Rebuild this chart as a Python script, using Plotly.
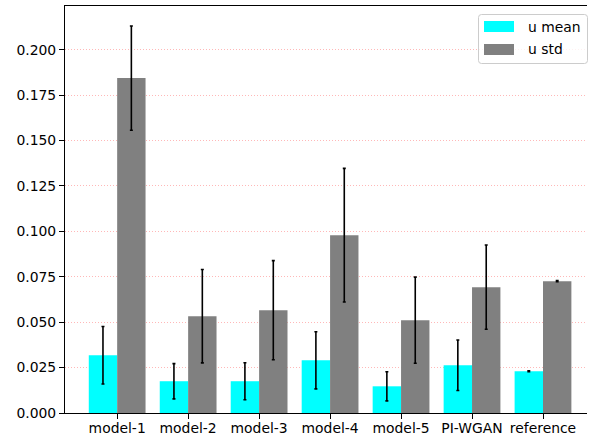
import plotly.graph_objects as go

# Per-model statistics of u: mean and std, each with its own spread
models = ["model-1", "model-2", "model-3", "model-4", "model-5", "PI-WGAN", "reference"]
u_mean = [0.0318, 0.0175, 0.0175, 0.0290, 0.0147, 0.0263, 0.0230]
u_mean_err = [0.0158, 0.0097, 0.0102, 0.0157, 0.0080, 0.0139, 0.0003]
u_std = [0.1844, 0.0533, 0.0566, 0.0979, 0.0511, 0.0693, 0.0726]
u_std_err = [0.0287, 0.0257, 0.0273, 0.0368, 0.0237, 0.0232, 0.0003]
y_ticks = [0.0, 0.025, 0.05, 0.075, 0.1, 0.125, 0.15, 0.175, 0.2]

FONT = "DejaVu Sans"
MEAN_COLOR = "#00ffff"
STD_COLOR = "#808080"

x_idx = list(range(len(models)))

fig = go.Figure()
fig.add_trace(go.Bar(
    x=x_idx, y=u_mean, name="u mean", marker=dict(color=MEAN_COLOR, line=dict(width=0)),
    error_y=dict(type="data", array=u_mean_err, color="black", thickness=1.6, width=1.5),
    showlegend=False,
))
fig.add_trace(go.Bar(
    x=x_idx, y=u_std, name="u std", marker=dict(color=STD_COLOR, line=dict(width=0)),
    error_y=dict(type="data", array=u_std_err, color="black", thickness=1.6, width=1.5),
    showlegend=False,
))

W, H = 589, 436
pl, pr, pt, pb = 65, 2, 6, 23

fig.update_layout(
    width=W, height=H,
    margin=dict(l=pl, r=pr, t=pt, b=pb),
    paper_bgcolor="white", plot_bgcolor="white",
    barmode="group", bargap=0.2, bargroupgap=0.0,
    font=dict(family=FONT, size=14, color="black"),
)
fig.update_xaxes(
    range=[-0.735, 6.62], tickmode="array", tickvals=x_idx, ticktext=models,
    showgrid=False, zeroline=False, automargin=False,
    showline=True, linecolor="black", linewidth=1.1, mirror=True,
    ticks="outside", ticklen=5, tickwidth=1.1, tickcolor="black",
    ticklabelstandoff=-3,
    tickfont=dict(family=FONT, size=13.9, color="black"),
)
fig.update_yaxes(
    range=[0, 0.2241], tickmode="array", tickvals=y_ticks,
    ticktext=[f"{v:.3f}" for v in y_ticks],
    showgrid=True, gridcolor="rgba(255,0,0,0.28)", griddash="1px,2px", gridwidth=1,
    zeroline=False, automargin=False,
    showline=True, linecolor="black", linewidth=1.1,
    ticks="outside", ticklen=5, tickwidth=1.1, tickcolor="black",
    tickfont=dict(family=FONT, size=13.9, color="black"),
)

# Legend box drawn in pixel-like paper coordinates
pw, ph = W - pl - pr, H - pt - pb


def px(x):
    return (x - pl) / pw


def py(y):
    return 1 - (y - pt) / ph


x0, x1, y0, y1 = 478.5, 587.5, 14.5, 63.5
r = 3
path = (
    f"M {px(x0 + r)} {py(y0)} L {px(x1 - r)} {py(y0)} "
    f"Q {px(x1)} {py(y0)} {px(x1)} {py(y0 + r)} L {px(x1)} {py(y1 - r)} "
    f"Q {px(x1)} {py(y1)} {px(x1 - r)} {py(y1)} L {px(x0 + r)} {py(y1)} "
    f"Q {px(x0)} {py(y1)} {px(x0)} {py(y1 - r)} L {px(x0)} {py(y0 + r)} "
    f"Q {px(x0)} {py(y0)} {px(x0 + r)} {py(y0)} Z"
)
fig.add_shape(type="path", path=path, xref="paper", yref="paper",
              line=dict(color="#cccccc", width=1), fillcolor="rgba(255,255,255,0.8)", layer="above")

entries = [("u mean", MEAN_COLOR, 26.5), ("u std", STD_COLOR, 49.5)]
for label, color, yc in entries:
    fig.add_shape(type="rect", xref="paper", yref="paper",
                  x0=px(484), x1=px(514), y0=py(yc - 5.5), y1=py(yc + 5.5),
                  line=dict(width=0), fillcolor=color, layer="above")
    fig.add_annotation(x=px(526), y=py(yc), xref="paper", yref="paper",
                       text=label, showarrow=False, xanchor="left", yanchor="middle",
                       font=dict(family=FONT, size=13.9, color="black"))

fig.write_html("out.html")
